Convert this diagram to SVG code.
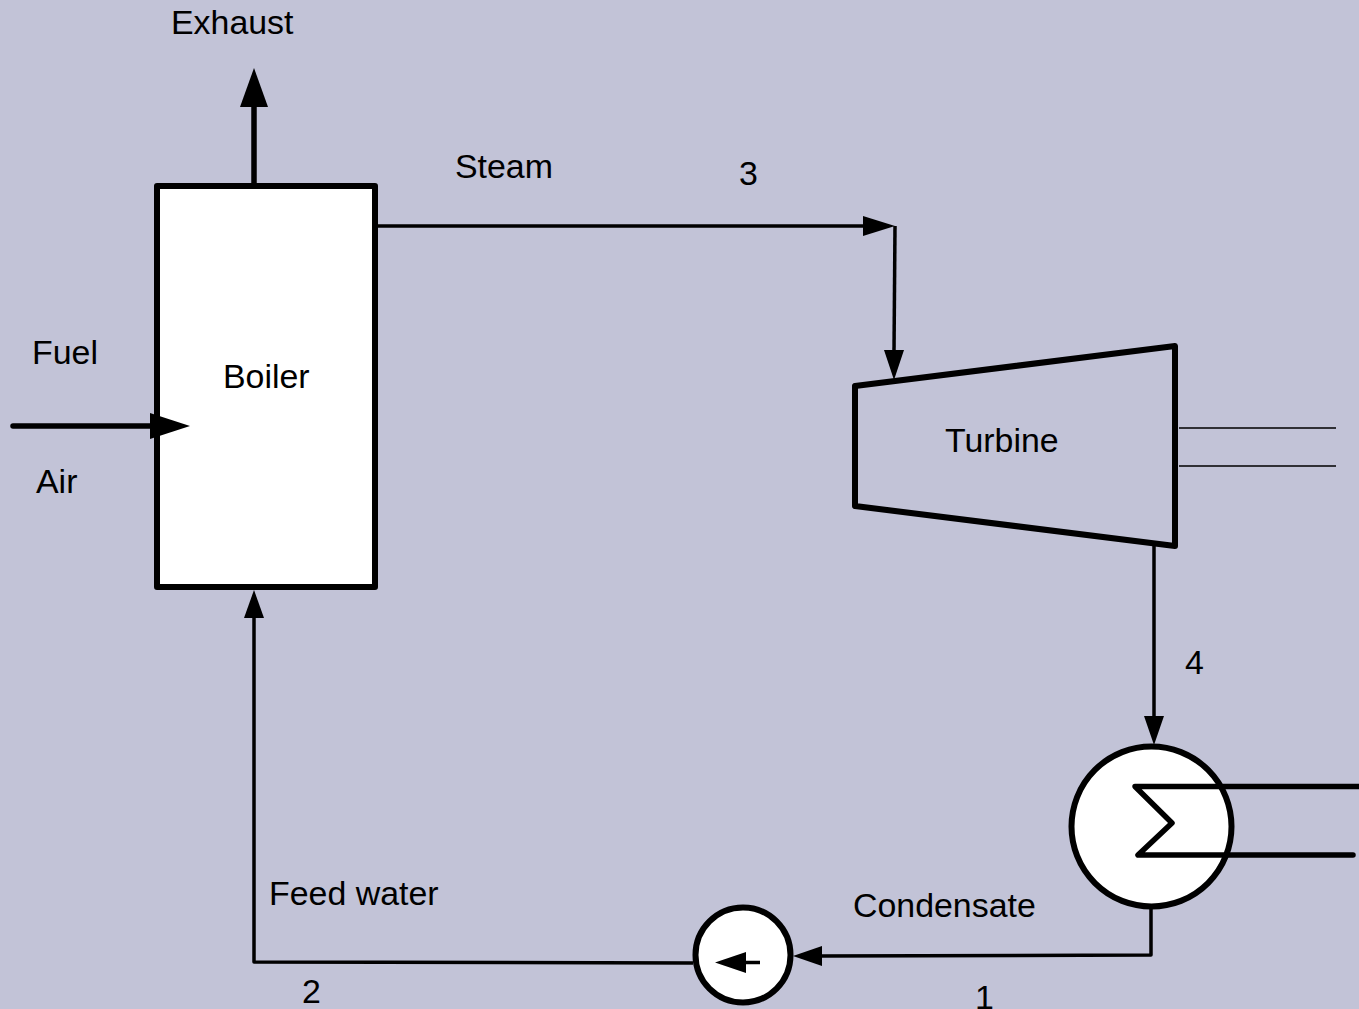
<svg xmlns="http://www.w3.org/2000/svg" width="1359" height="1009" viewBox="0 0 1359 1009">
<style>
text{font-family:"Liberation Sans",Arial,sans-serif;font-size:33.9px;fill:#000}
.s{fill:#fff;stroke:#000;stroke-width:6;stroke-linejoin:round}
.l{fill:none;stroke:#000;stroke-width:3.5;stroke-linejoin:round}
.b{fill:none;stroke:#000;stroke-width:5.5;stroke-linecap:round;stroke-linejoin:round}
.t{fill:none;stroke:#000;stroke-width:1.6}
.h{fill:#000}
</style>
<rect width="1359" height="1009" fill="#c2c3d7"/>
<g id="boiler"><rect class="s" x="157" y="186" width="218" height="401"/><text x="223" y="388">Boiler</text></g>
<g id="turbine"><polygon class="s" style="fill:#c2c3d7" points="855,386 1175,346 1175,546 855,506"/><text x="945" y="452">Turbine</text></g>
<g id="condenser"><circle class="s" cx="1151.5" cy="826.5" r="80"/></g>
<g id="pump"><circle class="s" cx="743" cy="955" r="47.5"/></g>
<g id="connectors">
<path class="b" d="M254,186V104"/><polygon class="h" points="254,68 240,107 268,107"/>
<path class="l" d="M376,226H865"/><polygon class="h" points="895,226 863,216 863,236"/>
<path class="l" d="M895,226L894,352"/><polygon class="h" points="894,380 884,350 904,350"/>
<path class="l" d="M1154,546V718"/><polygon class="h" points="1154,745 1144,716 1164,716"/>
<path class="b" d="M13,426H152"/><polygon class="h" points="190,426 150,413 150,439"/>
<path class="t" d="M1179,428H1336M1179,466H1336"/>
<path class="b" d="M1359,786.5H1135L1172,823L1138,855H1353"/>
<path class="l" d="M1151,907V955L820,956"/><polygon class="h" points="793,956 822,946 822,966"/>
<path class="l" d="M693,963L254,962V612"/><polygon class="h" points="254,590 244,618 264,618"/>
<path class="l" d="M760,962.5H744"/><polygon class="h" points="715,962.5 746,952 746,973"/>
</g>
<g id="labels">
<text x="171" y="34">Exhaust</text>
<text x="455" y="178">Steam</text>
<text x="739" y="185">3</text>
<text x="32" y="364">Fuel</text>
<text x="36" y="493">Air</text>
<text x="1185" y="674">4</text>
<text x="269" y="905">Feed water</text>
<text x="853" y="917">Condensate</text>
<text x="302" y="1003">2</text>
<text x="975" y="1009">1</text>
</g>
</svg>
